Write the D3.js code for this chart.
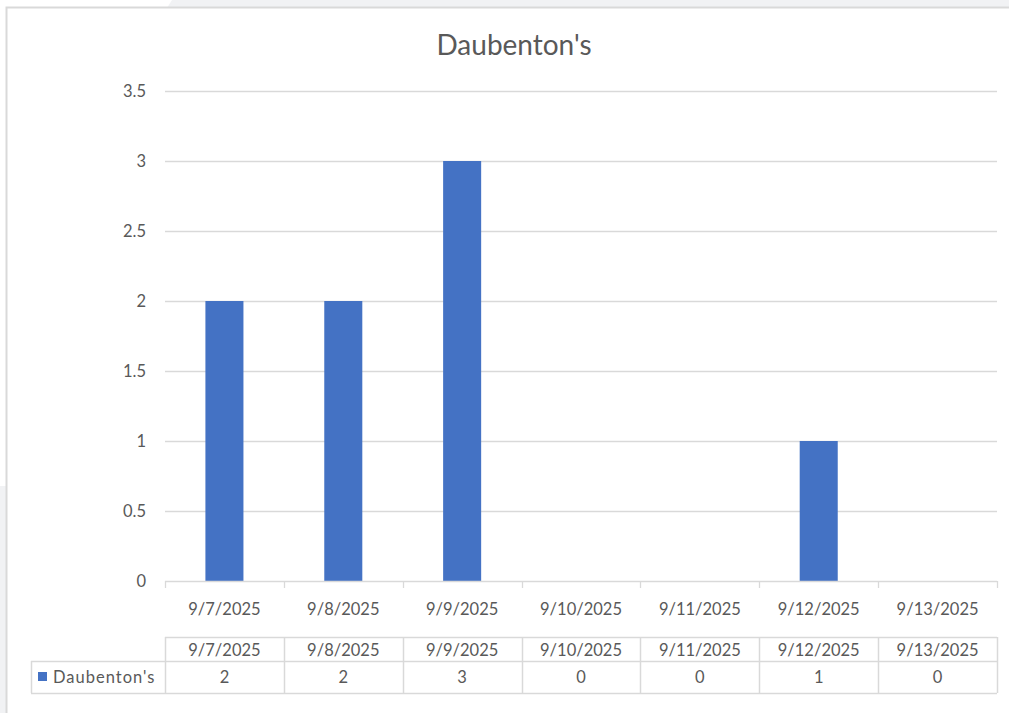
<!DOCTYPE html>
<html>
<head>
<meta charset="utf-8">
<script src="https://cdn.jsdelivr.net/npm/d3@7"></script>
<style>
    html, body { margin: 0; padding: 0; background: #ffffff; }
    svg { display: block; font-family: Lato, "Open Sans", sans-serif; }
</style>
</head>
<body>
<div id="chart"></div>
<script>
const title = "Daubenton's";
const seriesName = "Daubenton's";
const categories = ["9/7/2025", "9/8/2025", "9/9/2025", "9/10/2025", "9/11/2025", "9/12/2025", "9/13/2025"];
const values = [2, 2, 3, 0, 0, 1, 0];
const yTicks = [0, 0.5, 1, 1.5, 2, 2.5, 3, 3.5];

const W = 1009, H = 713;
const margin = { top: 91, right: 12, bottom: 132, left: 165 };
const width = W - margin.left - margin.right;
const height = H - margin.top - margin.bottom;
const barColor = "#4472c4";
const gridColor = "#d9d9d9";
const textColor = "#595959";
const fs = 16.5;

const svg = d3.select("#chart").append("svg")
    .attr("width", W)
    .attr("height", H);

// background pieces of the screenshot
svg.append("rect").attr("width", W).attr("height", H).attr("fill", "#f1f2f4");
svg.append("path")
    .attr("d", "M0,0 L172,0 L167,8 L6,8 L6,486 L0,486 Z")
    .attr("fill", "#ffffff");
svg.append("rect")
    .attr("x", 7).attr("y", 8)
    .attr("width", W - 7).attr("height", H - 8)
    .attr("fill", "#ffffff");
svg.append("path")
    .attr("d", `M6.5,${H} L6.5,7.5 L${W},7.5`)
    .attr("fill", "none")
    .attr("stroke", "#d9d9d9")
    .attr("stroke-width", 2);

svg.append("text")
    .attr("x", 514)
    .attr("y", 55)
    .attr("text-anchor", "middle")
    .attr("font-size", 28)
    .attr("fill", textColor)
    .text(title);

const g = svg.append("g").attr("transform", `translate(${margin.left},${margin.top})`);

const x = d3.scaleBand().domain(categories).range([0, width]).paddingInner(0).paddingOuter(0);
const y = d3.scaleLinear().domain([0, 3.5]).range([height, 0]);

// gridlines
g.append("g")
    .selectAll("line")
    .data(yTicks.filter(d => d > 0))
    .join("line")
    .attr("x1", 0)
    .attr("x2", width)
    .attr("y1", d => Math.round(y(d)) + 0.5)
    .attr("y2", d => Math.round(y(d)) + 0.5)
    .attr("stroke", gridColor)
    .attr("stroke-width", 1.3);

// y axis labels
const yAxis = g.append("g")
    .call(d3.axisLeft(y).tickValues(yTicks).tickSize(0).tickPadding(19).tickFormat(d3.format("")));
yAxis.select(".domain").remove();
yAxis.selectAll("text")
    .attr("font-size", fs)
    .attr("fill", textColor)
    .attr("font-family", "Lato, 'Open Sans', sans-serif");

// bars
const barW = x.bandwidth() * 0.32;
g.append("g")
    .selectAll("rect")
    .data(values)
    .join("rect")
    .attr("x", (d, i) => x(categories[i]) + (x.bandwidth() - barW) / 2)
    .attr("y", d => y(d))
    .attr("width", barW)
    .attr("height", d => y(0) - y(d))
    .attr("fill", barColor);

// x axis line and ticks
const xAxisG = g.append("g").attr("transform", `translate(0,${height})`);
xAxisG.append("line")
    .attr("x1", 0).attr("x2", width)
    .attr("y1", 0.5).attr("y2", 0.5)
    .attr("stroke", gridColor)
    .attr("stroke-width", 1.3);
const boundaries = categories.map(c => x(c)).concat([width]);
xAxisG.selectAll(".tk")
    .data(boundaries)
    .join("line")
    .attr("class", "tk")
    .attr("x1", d => Math.round(d) + 0.5)
    .attr("x2", d => Math.round(d) + 0.5)
    .attr("y1", 0)
    .attr("y2", 7)
    .attr("stroke", gridColor)
    .attr("stroke-width", 1.3);
xAxisG.selectAll(".lbl")
    .data(categories)
    .join("text")
    .attr("class", "lbl")
    .attr("x", d => x(d) + x.bandwidth() / 2)
    .attr("y", 34)
    .attr("text-anchor", "middle")
    .attr("font-size", fs)
    .attr("fill", textColor)
    .text(d => d);

// data table
const tTop = 637 - margin.top, tMid = 661 - margin.top, tBot = 693 - margin.top;
const legendLeft = 31 - margin.left;
const table = g.append("g");
const hl = [
    [0, width, tTop],
    [legendLeft, width, tMid],
    [legendLeft, width, tBot]
];
table.selectAll(".hl")
    .data(hl)
    .join("line")
    .attr("class", "hl")
    .attr("x1", d => d[0]).attr("x2", d => d[1])
    .attr("y1", d => d[2] + 0.5).attr("y2", d => d[2] + 0.5)
    .attr("stroke", gridColor)
    .attr("stroke-width", 1.5);
table.selectAll(".vl")
    .data(boundaries)
    .join("line")
    .attr("class", "vl")
    .attr("x1", d => Math.round(d) + 0.5).attr("x2", d => Math.round(d) + 0.5)
    .attr("y1", tTop).attr("y2", tBot)
    .attr("stroke", gridColor)
    .attr("stroke-width", 1.5);
table.append("line")
    .attr("x1", legendLeft + 0.5).attr("x2", legendLeft + 0.5)
    .attr("y1", tMid).attr("y2", tBot)
    .attr("stroke", gridColor)
    .attr("stroke-width", 1.5);

table.selectAll(".hd")
    .data(categories)
    .join("text")
    .attr("class", "hd")
    .attr("x", d => x(d) + x.bandwidth() / 2)
    .attr("y", tMid - 5)
    .attr("text-anchor", "middle")
    .attr("font-size", fs)
    .attr("fill", textColor)
    .text(d => d);
table.selectAll(".val")
    .data(values)
    .join("text")
    .attr("class", "val")
    .attr("x", (d, i) => x(categories[i]) + x.bandwidth() / 2)
    .attr("y", tBot - 10)
    .attr("text-anchor", "middle")
    .attr("font-size", fs)
    .attr("fill", textColor)
    .text(d => d);

// legend key in table
table.append("rect")
    .attr("x", 38 - margin.left)
    .attr("y", 672 - margin.top)
    .attr("width", 9)
    .attr("height", 9)
    .attr("fill", barColor);
table.append("text")
    .attr("x", 53 - margin.left)
    .attr("y", tBot - 10)
    .attr("font-size", fs)
    .attr("letter-spacing", 1)
    .attr("fill", textColor)
    .text(seriesName);
</script>
</body>
</html>
